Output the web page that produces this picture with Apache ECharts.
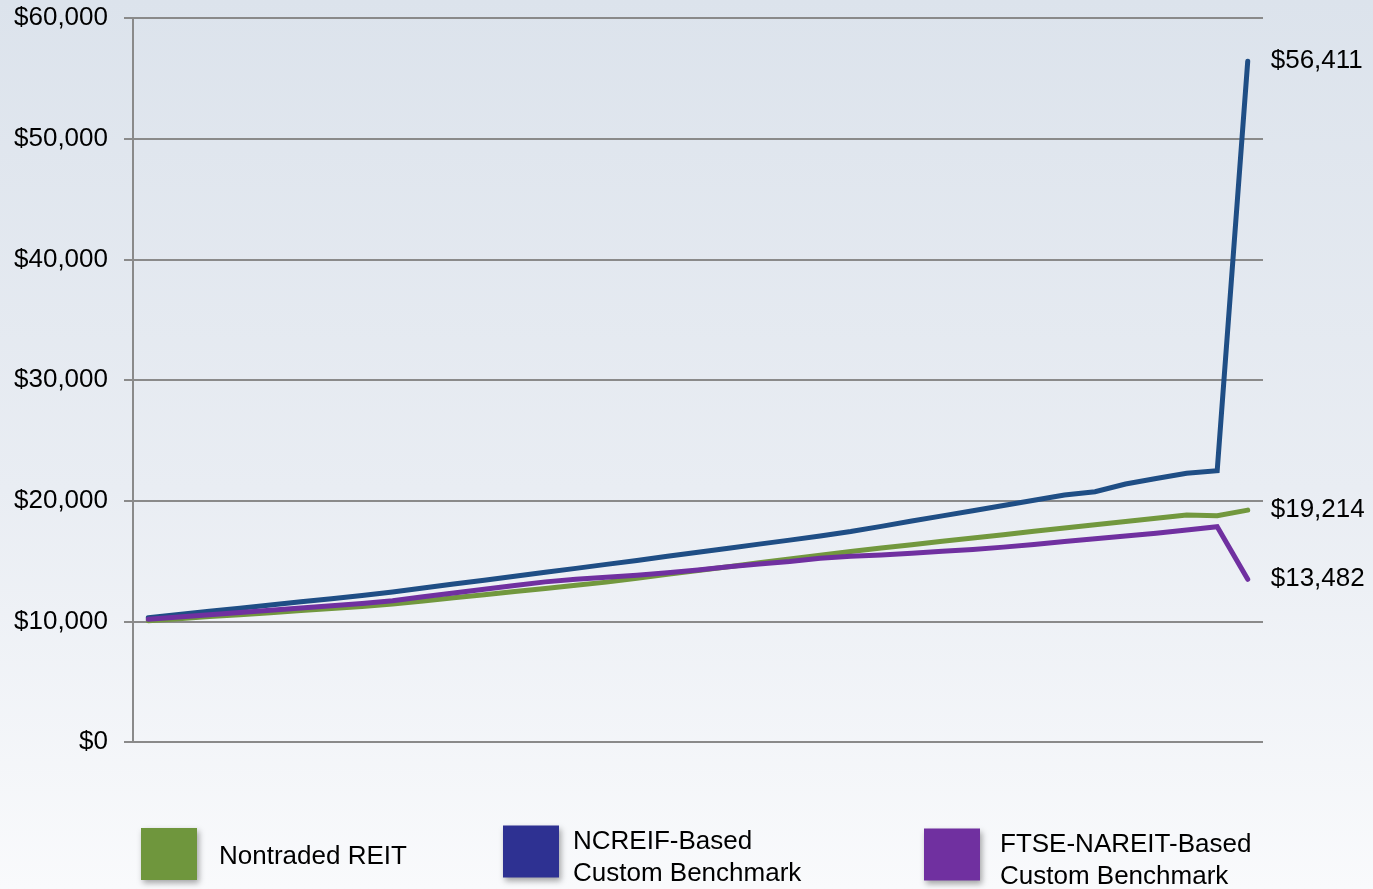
<!DOCTYPE html>
<html>
<head>
<meta charset="utf-8">
<title>Nontraded REIT vs Custom Benchmarks</title>
<script src="https://cdn.jsdelivr.net/npm/echarts@6/dist/echarts.min.js"></script>
<style>
    html, body { margin: 0; padding: 0; }
    #chart { width: 1373px; height: 889px; }
</style>
</head>
<body>
<div id="chart"></div>
<script>
// 数据：37个季度点（x轴不显示标签）
let periods = [];
for (let i = 1; i <= 37; i++) {
    periods.push('Q' + i);
}

let seriesNames = ['Nontraded REIT', 'NCREIF-Based Custom Benchmark', 'FTSE-NAREIT-Based Custom Benchmark'];

let nontradedReit = [10050, 10220, 10390, 10550, 10720, 10890, 11060, 11230, 11430, 11690,
    11950, 12210, 12470, 12730, 12990, 13250, 13570, 13890, 14210, 14530,
    14850, 15160, 15480, 15790, 16070, 16350, 16630, 16900, 17180, 17460,
    17740, 18010, 18280, 18540, 18810, 18750, 19214];

let ncreifBenchmark = [10300, 10560, 10830, 11090, 11350, 11620, 11880, 12140, 12430, 12760,
    13090, 13410, 13740, 14060, 14390, 14720, 15050, 15390, 15730, 16060,
    16400, 16730, 17070, 17440, 17870, 18310, 18740, 19170, 19600, 20030,
    20470, 20740, 21380, 21830, 22270, 22480, 56411];

let nareitBenchmark = [10170, 10360, 10550, 10730, 10920, 11110, 11290, 11480, 11710, 12030,
    12350, 12660, 12970, 13270, 13480, 13650, 13820, 14020, 14260, 14520,
    14750, 14950, 15220, 15400, 15500, 15640, 15800, 15960, 16150, 16370,
    16620, 16850, 17070, 17300, 17560, 17840, 13482];

let yTicks = [0, 10000, 20000, 30000, 40000, 50000, 60000];

let lineColors = ['#72983e', '#1f4e85', '#7030a0'];
let legendColors = ['#6f963d', '#2e3192', '#7030a0'];
let fontFamily = '"Liberation Sans", Arial, sans-serif';

function formatMoney(v) {
    return '$' + Number(v).toLocaleString('en-US');
}

let myChart = echarts.init(document.getElementById('chart'));

// 图例：每项一个方块 + 文字（后两项两行）
// 用一个空的 rich 行把文字往下推一点，使文字略低于方块中心
function makeLegend(idx, left, top, textGap, pushDown) {
    return {
        left: left,
        top: top,
        icon: 'rect',
        itemWidth: 56,
        itemHeight: 52,
        selectedMode: false,
        data: [{
            name: seriesNames[idx],
            itemStyle: {
                color: legendColors[idx],
                shadowBlur: 6,
                shadowColor: 'rgba(0,0,0,0.35)',
                shadowOffsetX: 2,
                shadowOffsetY: 3
            }
        }],
        formatter: function(name) {
            let lines = name.replace(' Custom', '\nCustom').split('\n');
            return '{p| }\n' + lines.map(function(s) {
                return '{a|' + s + '}';
            }).join('\n');
        },
        textStyle: {
            color: '#000',
            fontSize: 26,
            fontFamily: fontFamily,
            padding: [0, 0, 0, textGap],
            rich: {
                p: {
                    fontSize: 1,
                    lineHeight: pushDown
                },
                a: {
                    color: '#000',
                    fontSize: 26,
                    fontFamily: fontFamily,
                    lineHeight: 32
                }
            }
        }
    };
}

function makeSeries(idx, data) {
    return {
        name: seriesNames[idx],
        type: 'line',
        data: data,
        symbol: 'none',
        lineStyle: {
            color: lineColors[idx],
            width: 5,
            cap: 'round',
            join: 'miter'
        },
        itemStyle: {
            color: lineColors[idx]
        },
        endLabel: {
            show: true,
            distance: 23,
            color: '#000',
            fontSize: 26,
            fontFamily: fontFamily,
            formatter: function(params) {
                return formatMoney(params.value);
            }
        },
        animation: false
    };
}

let option = {
    backgroundColor: new echarts.graphic.LinearGradient(0, 0, 0, 1, [
        { offset: 0, color: '#dce3ec' },
        { offset: 0.55, color: '#e9edf3' },
        { offset: 1, color: '#f9fafc' }
    ]),
    animation: false,
    legend: [
        makeLegend(0, 136, 823, 17, 6),
        makeLegend(1, 498, 814, 9, 12),
        makeLegend(2, 919, 817, 15, 12)
    ],
    grid: {
        left: 133,
        right: 110,
        top: 18,
        bottom: 147,
        containLabel: false
    },
    xAxis: {
        type: 'category',
        data: periods,
        boundaryGap: true,
        axisLine: { show: false },
        axisTick: { show: false },
        axisLabel: { show: false },
        splitLine: { show: false }
    },
    yAxis: {
        type: 'value',
        min: yTicks[0],
        max: yTicks[yTicks.length - 1],
        interval: yTicks[1] - yTicks[0],
        axisLine: {
            show: true,
            lineStyle: { color: '#8a8a8a', width: 2 }
        },
        axisTick: {
            show: true,
            length: 9,
            lineStyle: { color: '#8a8a8a', width: 2 }
        },
        axisLabel: {
            color: '#000',
            fontSize: 26,
            fontFamily: fontFamily,
            margin: 25,
            formatter: function(value) {
                return formatMoney(value);
            }
        },
        splitLine: {
            show: true,
            lineStyle: { color: '#8a8a8a', width: 2 }
        }
    },
    series: [
        makeSeries(0, nontradedReit),
        makeSeries(1, ncreifBenchmark),
        makeSeries(2, nareitBenchmark)
    ]
};

myChart.setOption(option);
</script>
</body>
</html>
